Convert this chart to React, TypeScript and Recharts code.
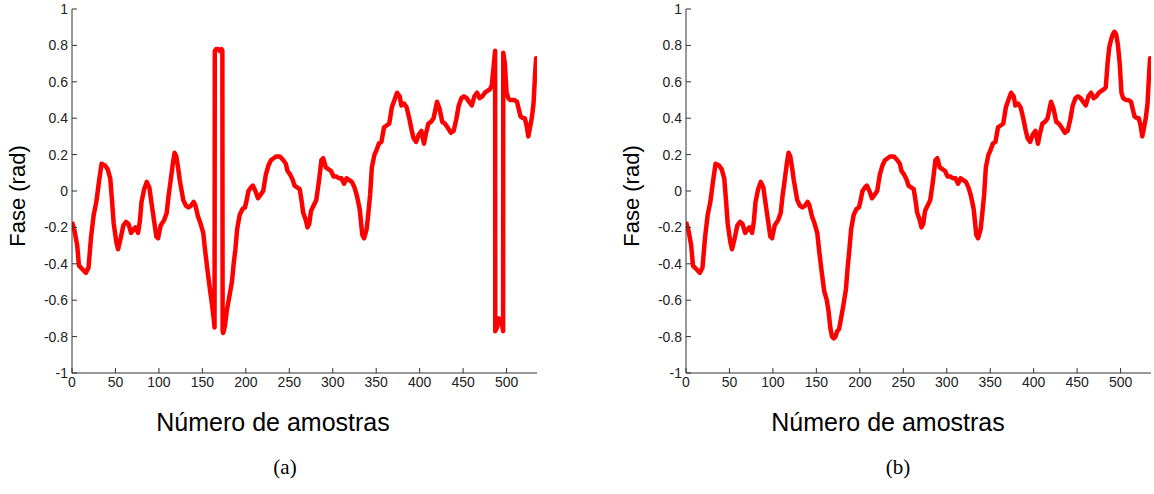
import React from 'react';
import { LineChart, Line, XAxis, YAxis } from 'recharts';

const xTicks = [0, 50, 100, 150, 200, 250, 300, 350, 400, 450, 500];
const yTicks = [-1, -0.8, -0.6, -0.4, -0.2, 0, 0.2, 0.4, 0.6, 0.8, 1];

// (a) phase with wrap-around jumps
const samplesA = [
  0, 3, 6, 8, 12, 16, 19, 22, 25, 28, 31, 34, 38, 41, 44, 46, 48, 51, 53, 56,
  59, 62, 65, 68, 71, 73, 76, 78, 80, 83, 86, 89, 91, 94, 97, 99, 102, 106, 109, 111,
  113, 116, 118, 120, 122, 124, 126, 128, 131, 134, 137, 140, 142, 145, 148, 151, 153, 156, 159, 161,
  163, 164, 164.3, 166, 168, 170, 172, 173, 173.3, 174, 176, 178, 181, 184, 186, 188, 190, 193, 196, 199,
  201, 203, 206, 208, 211, 214, 217, 220, 223, 226, 229, 232, 235, 239, 243, 246, 248, 251, 254, 256,
  259, 262, 264, 266, 269, 271, 273, 275, 278, 281, 284, 287, 289, 292, 295, 298, 301, 304, 307, 310,
  313, 316, 319, 322, 325, 328, 331, 334, 336, 339, 341, 343, 345, 348, 350, 353, 356, 359, 362, 365,
  368, 371, 374, 377, 379, 382, 385, 388, 391, 393, 396, 399, 402, 405, 407, 410, 413, 416, 420, 423,
  426, 429, 432, 436, 439, 442, 445, 448, 451, 454, 457, 460, 463, 466, 469, 472, 475, 478, 481, 483,
  485, 486.8, 487, 489, 491, 493, 495, 496, 496.2, 498, 500, 502, 504, 506, 509, 512, 514, 516, 519, 521,
  523, 525, 527, 529, 531, 533, 534, 535,
];
const phaseA = [
  -0.17, -0.22, -0.3, -0.41, -0.43, -0.45, -0.42, -0.25, -0.13, -0.06, 0.05, 0.15, 0.14, 0.12, 0.07, -0.05, -0.18, -0.28, -0.32, -0.26,
  -0.19, -0.17, -0.18, -0.23, -0.21, -0.2, -0.23, -0.17, -0.06, 0.01, 0.05, 0.02, -0.05, -0.15, -0.25, -0.26, -0.19, -0.16, -0.12, -0.03,
  0.04, 0.15, 0.21, 0.19, 0.13, 0.06, 0.005, -0.05, -0.08, -0.09, -0.08, -0.06, -0.08, -0.14, -0.18, -0.23, -0.32, -0.44, -0.55, -0.62,
  -0.7, -0.75, 0.77, 0.78, 0.78, 0.77, 0.78, 0.77, -0.77, -0.78, -0.74, -0.66, -0.58, -0.5, -0.4, -0.32, -0.21, -0.13, -0.1, -0.09,
  -0.05, 0.0, 0.02, 0.03, 0.0, -0.04, -0.02, 0.0, 0.09, 0.14, 0.17, 0.18, 0.19, 0.19, 0.17, 0.15, 0.11, 0.09, 0.06, 0.03,
  0.02, 0.01, -0.05, -0.12, -0.16, -0.2, -0.18, -0.11, -0.08, -0.05, 0.05, 0.17, 0.18, 0.13, 0.12, 0.11, 0.08, 0.08, 0.07, 0.07,
  0.04, 0.07, 0.06, 0.05, 0.02, -0.03, -0.1, -0.24, -0.26, -0.21, -0.12, -0.02, 0.13, 0.2, 0.22, 0.26, 0.27, 0.35, 0.36, 0.37,
  0.46, 0.5, 0.54, 0.52, 0.47, 0.48, 0.46, 0.4, 0.33, 0.29, 0.27, 0.31, 0.33, 0.26, 0.31, 0.37, 0.38, 0.4, 0.49, 0.45,
  0.38, 0.37, 0.35, 0.32, 0.33, 0.39, 0.47, 0.51, 0.52, 0.51, 0.49, 0.47, 0.52, 0.54, 0.51, 0.52, 0.54, 0.55, 0.56, 0.58,
  0.68, 0.77, -0.77, -0.75, -0.7, -0.71, -0.74, -0.77, 0.76, 0.7, 0.54, 0.51, 0.5, 0.5, 0.5, 0.49, 0.45, 0.41, 0.4, 0.4,
  0.36, 0.3, 0.35, 0.4, 0.48, 0.66, 0.73, 0.71,
];

// (b) unwrapped phase
const samplesB = [
  0, 3, 6, 8, 12, 16, 19, 22, 25, 28, 31, 34, 38, 41, 44, 46, 48, 51, 53, 56,
  59, 62, 65, 68, 71, 73, 76, 78, 80, 83, 86, 89, 91, 94, 97, 99, 102, 106, 109, 111,
  113, 116, 118, 120, 122, 124, 126, 128, 131, 134, 137, 140, 142, 145, 148, 151, 153, 156, 159, 162,
  164, 166, 168, 170, 172, 174, 176, 178, 181, 184, 186, 188, 190, 193, 196, 199,
  201, 203, 206, 208, 211, 214, 217, 220, 223, 226, 229, 232, 235, 239, 243, 246, 248, 251, 254, 256,
  259, 262, 264, 266, 269, 271, 273, 275, 278, 281, 284, 287, 289, 292, 295, 298, 301, 304, 307, 310,
  313, 316, 319, 322, 325, 328, 331, 334, 336, 339, 341, 343, 345, 348, 350, 353, 356, 359, 362, 365,
  368, 371, 374, 377, 379, 382, 385, 388, 391, 393, 396, 399, 402, 405, 407, 410, 413, 416, 420, 423,
  426, 429, 432, 436, 439, 442, 445, 448, 451, 454, 457, 460, 463, 466, 469, 472, 475, 478, 481, 483,
  485, 487, 489, 491, 493, 495, 497, 499, 501, 503, 506, 509, 512, 514, 516, 519, 521,
  523, 525, 527, 529, 531, 533, 534, 535,
];
const phaseB = [
  -0.17, -0.22, -0.3, -0.41, -0.43, -0.45, -0.42, -0.25, -0.13, -0.06, 0.05, 0.15, 0.14, 0.12, 0.07, -0.05, -0.18, -0.28, -0.32, -0.26,
  -0.19, -0.17, -0.18, -0.23, -0.21, -0.2, -0.23, -0.17, -0.06, 0.01, 0.05, 0.02, -0.05, -0.15, -0.25, -0.26, -0.19, -0.16, -0.12, -0.03,
  0.04, 0.15, 0.21, 0.19, 0.13, 0.06, 0.005, -0.05, -0.08, -0.09, -0.08, -0.06, -0.08, -0.14, -0.18, -0.23, -0.32, -0.44, -0.55, -0.6,
  -0.66, -0.75, -0.8, -0.81, -0.8, -0.77, -0.76, -0.71, -0.63, -0.54, -0.42, -0.32, -0.21, -0.13, -0.1, -0.09,
  -0.05, 0.0, 0.02, 0.03, 0.0, -0.04, -0.02, 0.0, 0.09, 0.14, 0.17, 0.18, 0.19, 0.19, 0.17, 0.15, 0.11, 0.09, 0.06, 0.03,
  0.02, 0.01, -0.05, -0.12, -0.16, -0.2, -0.18, -0.11, -0.08, -0.05, 0.05, 0.17, 0.18, 0.13, 0.12, 0.11, 0.08, 0.08, 0.07, 0.07,
  0.04, 0.07, 0.06, 0.05, 0.02, -0.03, -0.1, -0.24, -0.26, -0.21, -0.12, -0.02, 0.13, 0.2, 0.22, 0.26, 0.27, 0.35, 0.36, 0.37,
  0.46, 0.5, 0.54, 0.52, 0.47, 0.48, 0.46, 0.4, 0.33, 0.29, 0.27, 0.31, 0.33, 0.26, 0.31, 0.37, 0.38, 0.4, 0.49, 0.45,
  0.38, 0.37, 0.35, 0.32, 0.33, 0.39, 0.47, 0.51, 0.52, 0.51, 0.49, 0.47, 0.52, 0.54, 0.51, 0.52, 0.54, 0.55, 0.56, 0.57,
  0.7, 0.79, 0.83, 0.86, 0.875, 0.86, 0.8, 0.7, 0.54, 0.51, 0.5, 0.5, 0.49, 0.45, 0.41, 0.4, 0.4,
  0.36, 0.3, 0.35, 0.4, 0.48, 0.66, 0.73, 0.71,
];

const toRows = (xs: number[], ys: number[]) => xs.map((s, i) => ({ s, v: ys[i] }));

const AXIS = '#333';
const tickFont = { fontSize: 14, fontFamily: 'Liberation Sans, Arial, sans-serif', fill: '#222' };

function PhasePlot({ data, left, width, yAxisWidth }: { data: { s: number; v: number }[]; left: number; width: number; yAxisWidth: number }) {
  return (
    <div style={{ position: 'absolute', left, top: 0 }}>
      <LineChart width={width} height={400} data={data} margin={{ top: 9, right: 3, left: 0, bottom: 0 }}>
        <XAxis
          dataKey="s"
          type="number"
          domain={[0, 535]}
          ticks={xTicks}
          allowDataOverflow
          height={27}
          stroke={AXIS}
          tickSize={-5}
          tickMargin={9}
          tick={tickFont}
          interval={0}
        />
        <XAxis
          xAxisId="top"
          orientation="top"
          dataKey="s"
          type="number"
          domain={[0, 535]}
          ticks={xTicks}
          allowDataOverflow
          height={0}
          stroke={AXIS}
          tickSize={-5}
          tick={false}
          interval={0}
        />
        <YAxis
          type="number"
          domain={[-1, 1]}
          ticks={yTicks}
          allowDataOverflow
          width={yAxisWidth}
          stroke={AXIS}
          tickSize={-5}
          tickMargin={9}
          tick={tickFont}
          interval={0}
        />
        <YAxis
          yAxisId="right"
          orientation="right"
          type="number"
          domain={[-1, 1]}
          ticks={yTicks}
          allowDataOverflow
          width={0}
          stroke={AXIS}
          tickSize={-5}
          tick={false}
          interval={0}
        />
        <Line
          xAxisId="top"
          yAxisId="right"
          dataKey="v"
          stroke="none"
          dot={false}
          activeDot={false}
          isAnimationActive={false}
        />
        <Line
          type="linear"
          dataKey="v"
          stroke="#ff0000"
          strokeWidth={4.5}
          strokeLinejoin="round"
          dot={false}
          activeDot={false}
          isAnimationActive={false}
        />
      </LineChart>
    </div>
  );
}

const labelFont = 'Liberation Sans, Arial, sans-serif';

function TextAt({ x, y, children, rotate, size, family }: { x: number; y: number; children: React.ReactNode; rotate?: boolean; size: number; family: string }) {
  return (
    <div
      style={{
        position: 'absolute',
        left: x,
        top: y,
        transform: `translate(-50%, -50%)${rotate ? ' rotate(-90deg)' : ''}`,
        whiteSpace: 'nowrap',
        fontFamily: family,
        fontSize: size,
        color: '#000',
        lineHeight: 1,
      }}
    >
      {children}
    </div>
  );
}

export default function App() {
  return (
    <div style={{ position: 'absolute', left: 0, top: 0, width: 1154, height: 494, background: '#fff', overflow: 'hidden' }}>
      <PhasePlot data={toRows(samplesA, phaseA)} left={0} width={540} yAxisWidth={72} />
      <PhasePlot data={toRows(samplesB, phaseB)} left={615} width={539} yAxisWidth={71} />

      <TextAt x={18} y={196} rotate size={22} family={labelFont}>Fase (rad)</TextAt>
      <TextAt x={632} y={196} rotate size={22} family={labelFont}>Fase (rad)</TextAt>

      <TextAt x={273} y={422} size={25} family={labelFont}>Número de amostras</TextAt>
      <TextAt x={888} y={422} size={25} family={labelFont}>Número de amostras</TextAt>

      <TextAt x={285} y={467} size={21} family="Liberation Serif, Times New Roman, serif">(a)</TextAt>
      <TextAt x={898} y={467} size={21} family="Liberation Serif, Times New Roman, serif">(b)</TextAt>
    </div>
  );
}
